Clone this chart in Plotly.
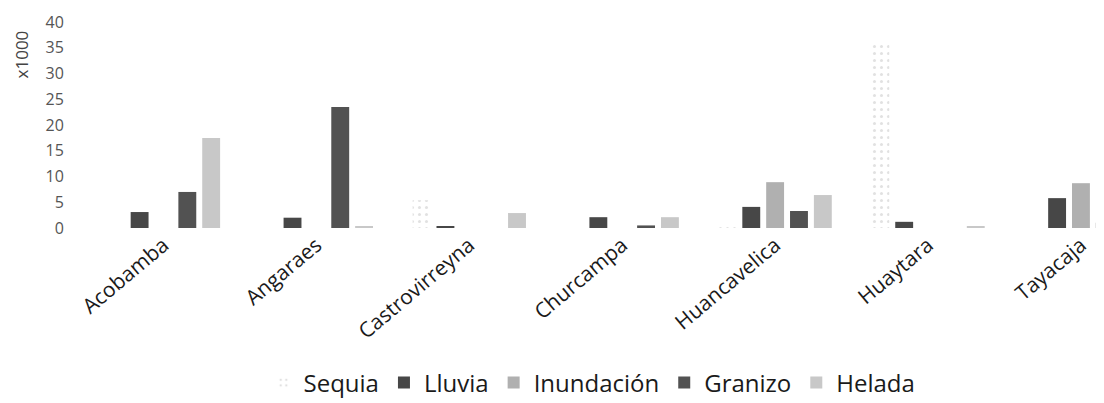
import plotly.graph_objects as go

categories = ["Acobamba", "Angaraes", "Castrovirreyna", "Churcampa",
              "Huancavelica", "Huaytara", "Tayacaja"]
sequia     = [0, 0, 5.4, 0, 0.3, 35.9, 0]
lluvia     = [3.1, 2.0, 0.3, 2.1, 4.1, 1.2, 5.8]
inundacion = [0, 0, 0, 0, 8.9, 0, 8.7]
granizo    = [7.0, 23.5, 0, 0.5, 3.3, 0, 1.0]
helada     = [17.5, 0.3, 2.9, 2.1, 6.4, 0.2, 0]

y_ticks = [0, 5, 10, 15, 20, 25, 30, 35, 40]

series = [
    ("Lluvia", lluvia, "#474747"),
    ("Inundación", inundacion, "#b0b0b0"),
    ("Granizo", granizo, "#525252"),
    ("Helada", helada, "#c8c8c8"),
]

fig = go.Figure()
fig.add_trace(go.Bar(name="Sequia", x=categories, y=sequia,
                     marker=dict(color="white", line=dict(width=0),
                                 pattern=dict(shape=".", fgcolor="#c4c4c4",
                                              bgcolor="white", size=7,
                                              solidity=0.15))))
for name, vals, col in series:
    fig.add_trace(go.Bar(name=name, x=categories, y=vals,
                         marker=dict(color=col, line=dict(width=0))))

fig.update_layout(
    width=1104, height=403,
    margin=dict(l=78.5, r=0, t=14, b=183),
    paper_bgcolor="white", plot_bgcolor="white",
    barmode="group", bargap=0.22, bargroupgap=0.25,
    font=dict(family="Open Sans", color="#444"),
    showlegend=True,
    legend=dict(orientation="h", xref="container", x=0.529, xanchor="center",
                yref="container", y=0.0695, yanchor="middle",
                font=dict(size=24, color="#1a1a1a"),
                itemwidth=30, traceorder="normal"),
    xaxis=dict(range=[-0.5, 6.203], tickangle=-40, showline=False,
               showgrid=False, zeroline=False, ticks="",
               tickfont=dict(size=21, color="#1a1a1a")),
    yaxis=dict(range=[0, 40], tickvals=y_ticks, showgrid=False,
               zeroline=False, showline=False, ticks="outside", ticklen=19,
               tickcolor="rgba(0,0,0,0)",
               tickfont=dict(size=16, color="#555")),
    annotations=[dict(text="x1000", textangle=-90, xref="paper", yref="paper",
                      x=0, xshift=-65.5, xanchor="center", y=0.84,
                      yanchor="middle", showarrow=False,
                      font=dict(size=17, color="#444"))],
)

fig.write_html("out.html")
